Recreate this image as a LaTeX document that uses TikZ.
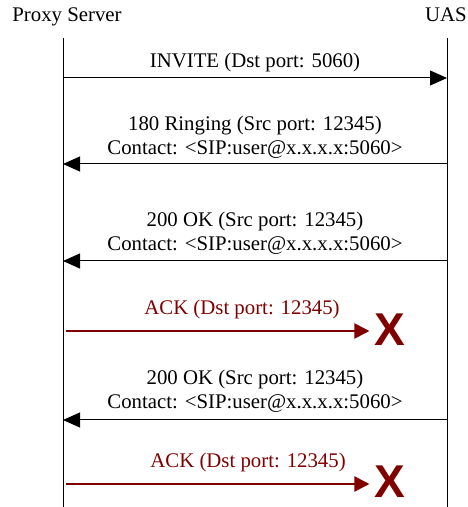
\documentclass[tikz,border=0pt]{standalone}
\usepackage{fontspec}
\setmainfont{Liberation Serif}
\newfontfamily\crossfont{Liberation Sans}
\usetikzlibrary{arrows.meta}
\definecolor{ackred}{RGB}{128,0,0}
\tikzset{
  msg/.style={-{Triangle[length=17pt,width=15pt]}, line width=1pt},
  lostmsg/.style={-{Triangle[length=15pt,width=15pt]}, line width=2pt, ackred},
  msglabel/.style={inner sep=0pt, align=center},
  lost/.style={text=ackred, font=\crossfont\bfseries\fontsize{46}{46}\selectfont, inner sep=0pt},
}
\begin{document}
\begin{tikzpicture}[x=1pt,y=1pt,font=\fontsize{20.8}{24}\selectfont]
    \useasboundingbox (0,0) rectangle (467,507);
    \node[anchor=base,inner sep=0pt] (proxy) at (67,485) {Proxy Server};
    \node[anchor=base east,inner sep=0pt] (uas) at (467,485) {UAS};
    \coordinate (ptop) at (63,469); \coordinate (pbot) at (63,0);
    \coordinate (utop) at (447,469); \coordinate (ubot) at (447,0);
    \draw[line width=1pt] (ptop) -- (pbot);
    \draw[line width=1pt] (utop) -- (ubot);
    % message levels on both lifelines
    \foreach \n/\y in {1/429,2/343,3/246,4/87} {
        \coordinate (p\n) at (63,\y);
        \coordinate (u\n) at (447,\y);
    }
    \draw[msg] (p1) -- node[msglabel,above=6pt] {INVITE (Dst port: 5060)} (u1);
    \draw[msg] (u2) -- node[msglabel,above=5pt] {180 Ringing (Src port: 12345)\\Contact: <SIP:user@x.x.x.x:5060>} (p2);
    \draw[msg] (u3) -- node[msglabel,above=6pt] {200 OK (Src port: 12345)\\Contact: <SIP:user@x.x.x.x:5060>} (p3);
    \draw[msg] (u4) -- node[msglabel,above=7pt] {200 OK (Src port: 12345)\\Contact: <SIP:user@x.x.x.x:5060>} (p4);
    % ACKs to the wrong port get lost
    \coordinate (a1) at (66,176);
    \coordinate (a2) at (66,23);
    \node[lost] (x1) at (390,177) {X};
    \node[lost] (x2) at (390,25) {X};
    \draw[lostmsg] (a1) -- node[msglabel,above=11pt,pos=0.58,text=ackred] {ACK (Dst port: 12345)} ([xshift=-5pt]a1 -| x1.west);
    \draw[lostmsg] (a2) -- node[msglabel,above=11.5pt,pos=0.6,text=ackred] {ACK (Dst port: 12345)} ([xshift=-5pt]a2 -| x2.west);
\end{tikzpicture}
\end{document}
